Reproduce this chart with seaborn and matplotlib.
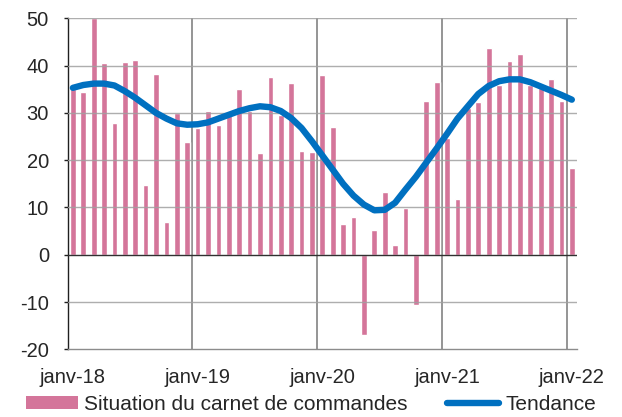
import matplotlib
matplotlib.use("Agg")
import matplotlib.pyplot as plt
import seaborn as sns
import pandas as pd
import numpy as np
from matplotlib.patches import Patch
from matplotlib.lines import Line2D

months = ["janv", "févr", "mars", "avr", "mai", "juin", "juil", "août", "sept", "oct", "nov", "déc"]
years = ["18", "19", "20", "21"]
categories = [f"{m}-{y}" for y in years for m in months] + ["janv-22"]

carnet = [
    35.1, 34.4, 50.0, 40.6, 27.9, 40.8, 41.1, 14.7, 38.3, 7.0, 30.0, 23.9,
    26.8, 30.4, 27.5, 30.2, 35.1, 30.5, 21.6, 37.5, 29.5, 36.4, 22.0, 21.8,
    38.0, 27.1, 6.6, 7.9, -17.0, 5.3, 13.2, 2.1, 9.9, -10.6, 32.5, 36.5,
    24.7, 11.7, 31.1, 32.4, 43.7, 35.8, 40.9, 42.5, 36.0, 35.2, 37.1, 32.5,
    18.3,
]
tendance = [
    35.3, 35.9, 36.2, 36.2, 35.8, 34.6, 33.2, 31.6, 30.0, 28.8, 27.8, 27.5,
    27.6, 28.0, 28.8, 29.6, 30.4, 31.0, 31.4, 31.2, 30.4, 28.9, 26.8, 24.0,
    21.0, 18.0, 15.0, 12.5, 10.6, 9.4, 9.5, 11.0, 13.8, 16.5, 19.5, 22.5,
    25.6, 28.8, 31.4, 34.0, 35.7, 36.7, 37.1, 37.1, 36.5, 35.6, 34.7, 33.8,
    32.8,
]
tick_labels = ["janv-18", "janv-19", "janv-20", "janv-21", "janv-22"]

PINK = "#D4759A"
BLUE = "#0070C0"
FS = 14.5

sns.set_style("white")
plt.rcParams["font.family"] = ["Liberation Sans", "DejaVu Sans"]

df = pd.DataFrame({"mois": categories, "carnet": carnet, "tendance": tendance})
df["pos"] = np.arange(len(df))

fig = plt.figure(figsize=(6.22, 4.17), dpi=100)
ax = fig.add_axes([0.1088, 0.1623, 0.8189, 0.7937])

sns.barplot(data=df, x="pos", y="carnet", color=PINK, width=0.55,
            saturation=1, ax=ax, native_scale=True, zorder=2)
sns.lineplot(data=df, x="pos", y="tendance", color=BLUE, linewidth=4.6,
             ax=ax, zorder=6)

ax.set_xlim(-0.5, len(df) - 0.5)
ax.set_ylim(-20, 50)
ax.set_yticks(range(-20, 51, 10))
ax.set_yticklabels([str(v) for v in range(-20, 51, 10)], fontsize=FS)
ax.set_xticks([0, 12, 24, 36, 48])
ax.set_xticklabels(tick_labels, fontsize=FS)
ax.set_xlabel("")
ax.set_ylabel("")

# horizontal gridlines
for v in range(-10, 51, 10):
    if v != 0:
        ax.axhline(v, color="#A0A0A0", linewidth=1.0, alpha=0.85, zorder=3)
ax.axhline(0, color="#303030", linewidth=1.0, zorder=5)
# vertical gridlines at category boundaries of January
for b in [11.5, 23.5, 35.5, 47.5]:
    ax.axvline(b, color="#8C8C8C", linewidth=1.3, zorder=1)

for s in ["top", "right"]:
    ax.spines[s].set_visible(False)
ax.spines["left"].set_color("#202020")
ax.spines["left"].set_linewidth(1.0)
ax.spines["bottom"].set_color("#8C8C8C")
ax.spines["bottom"].set_linewidth(1.0)
ax.tick_params(axis="y", length=3, width=1, color="#202020", pad=10.5, direction="out", left=True)
ax.tick_params(axis="x", length=0, pad=13.5)

handles = [Patch(facecolor=PINK, edgecolor="none"),
           Line2D([0], [0], color=BLUE, linewidth=4.6)]
fig.legend(handles, ["Situation du carnet de commandes", "Tendance"],
           loc="center", bbox_to_anchor=(0.5, 0.03), ncol=2, frameon=False,
           fontsize=15, handlelength=2.5, handleheight=0.53, handletextpad=0.3,
           columnspacing=1.9, borderpad=0.2)

fig.savefig("out.png", dpi=100)
